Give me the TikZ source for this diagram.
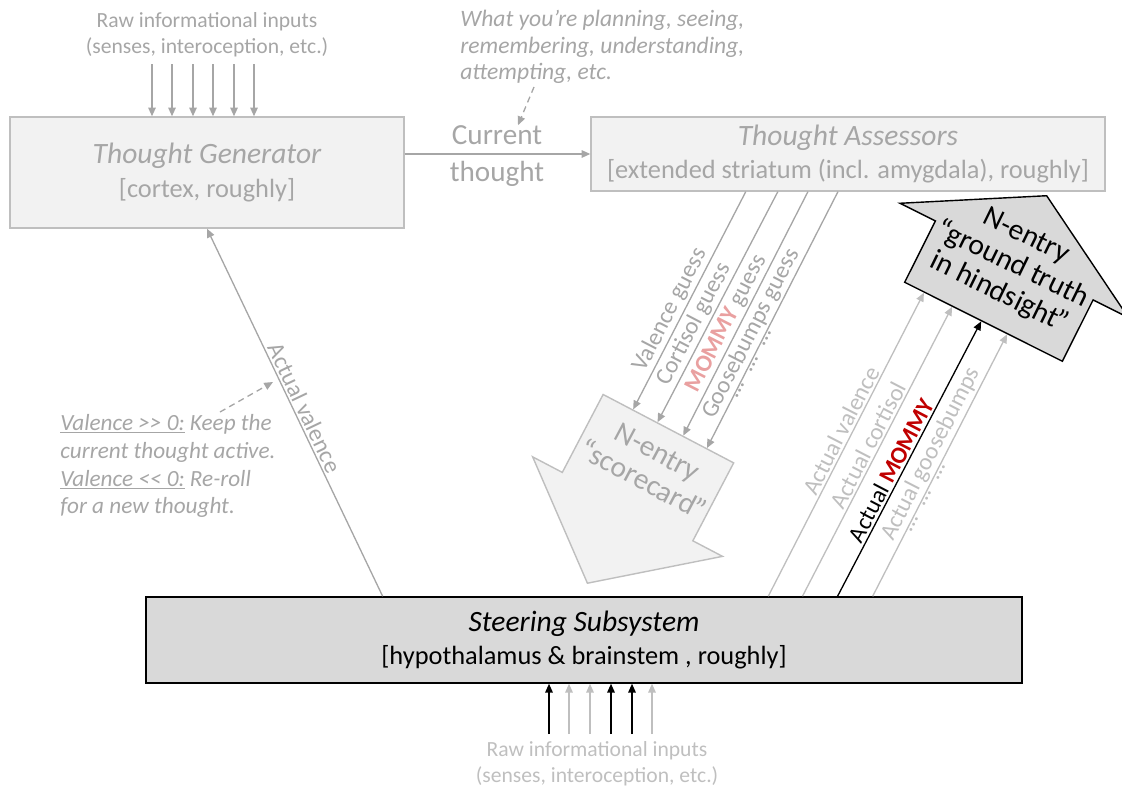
\documentclass[tikz,border=0pt]{standalone}
\usepackage{fontspec}
\setmainfont{Carlito}
\usetikzlibrary{arrows.meta,calc,shapes.arrows}
\definecolor{inkgray}{RGB}{166,166,166}
\definecolor{palegray}{RGB}{191,191,191}
\definecolor{boxframe}{RGB}{191,191,191}
\definecolor{boxfill}{RGB}{242,242,242}
\definecolor{steerfill}{RGB}{217,217,217}
\definecolor{mommyred}{RGB}{192,0,0}
\definecolor{mommypink}{RGB}{233,160,160}
\newcommand\titlesize{\fontsize{16.8}{19}\selectfont}
\newcommand\subsize{\fontsize{15}{19}\selectfont}
\newcommand\notesize{\fontsize{13.6}{15.5}\selectfont}
\newcommand\rawsize{\fontsize{12.3}{14.7}\selectfont}
\newcommand\more{…\hspace{0.55em}…\hspace{0.55em}…}

\begin{document}
\begin{tikzpicture}[
  x=0.02cm, y=-0.02cm,
  box/.style={draw=boxframe,line width=0.8pt,fill=boxfill,inner sep=0pt,
              align=center,text=inkgray,font=\subsize},
  steer/.style={box,draw=black,line width=0.9pt,fill=steerfill,text=black},
  arr/.style={-{Triangle[length=5pt,width=4.3pt]},inkgray,line width=0.75pt},
  cue/.style={arr,dash pattern=on 3.5pt off 2.5pt},
  tag/.style={sloped,inner sep=1pt,font=\notesize},
  note/.style={align=left,inner sep=0pt,text=inkgray,
               font=\fontsize{13.4}{15.1}\selectfont\itshape},
  raw/.style={align=center,inner xsep=0pt,inner ysep=4pt,font=\rawsize},
  bigarrow/.style={shape=single arrow,draw=boxframe,fill=boxfill,line width=0.8pt,
                   inner xsep=0pt,anchor=tip},
  bigtext/.style={align=center,inner sep=0pt,font=\fontsize{16.8}{18}\selectfont}
]
\useasboundingbox (0,0) rectangle (1122,791);
\clip (0,0) rectangle (1122,791);

% the three systems
\node[box,minimum width=7.88cm,minimum height=2.22cm] (tg) at (207,172.5)
  {{\titlesize\itshape Thought Generator}\\{[cortex, roughly]}};
\node[box,minimum width=10.28cm,minimum height=1.48cm] (ta) at (848,154)
  {{\titlesize\itshape Thought Assessors}\\{[extended striatum (incl. amygdala), roughly]}};
\node[steer,minimum width=17.52cm,minimum height=1.72cm] (ss) at (584,640)
  {{\titlesize\itshape Steering Subsystem}\\{[hypothalamus \& brainstem , roughly]}};

% sensory inputs, top and bottom
\node[raw,text=inkgray,anchor=south] (rawtop) at (207,64)
  {Raw informational inputs\\(senses, interoception, etc.)};
\node[raw,text=palegray,anchor=north] (rawbot) at (597,734)
  {Raw informational inputs\\(senses, interoception, etc.)};
\foreach \x in {152,172,193,213,234,254}
  \draw[arr] (\x,0 |- rawtop.south) -- (\x,0 |- tg.north);
\foreach \x/\c in {549/black,569/palegray,590/palegray,611/black,632/black,652/palegray}
  \draw[arr,\c] (\x,0 |- rawbot.north) -- (\x,0 |- ss.south);

% current thought
\node[align=center,inner sep=0pt,text=inkgray,font=\fontsize{16.6}{21}\selectfont] (cur) at (497,156)
  {Current\\thought};
\draw[arr] (tg.east |- ta.west) -- (ta.west);
\node[note,anchor=west] (plan) at (460,47)
  {What you’re planning, seeing,\\remembering, understanding,\\attempting, etc.};
\coordinate (planfoot) at (534,87);
\draw[cue] (planfoot) -- ([xshift=0.42cm]cur.north);

% valence loop back to the generator
\draw[arr] ($(ss.north west)!0.2705!(ss.north east)$)
  -- node[tag,above,pos=0.5,text=inkgray] {Actual valence} (tg.south);
\node[note,anchor=west,font=\fontsize{13.2}{15.9}\selectfont\itshape] (rule) at (60,466)
  {\underline{Valence >{}> 0:} Keep the\\current thought active.\\\underline{Valence <{}< 0:} Re-roll\\for a new thought.};
\coordinate (rulefoot) at (220,412);
\coordinate (rulehead) at (273,382);
\draw[cue] (rulefoot) -- (rulehead);

% block arrows
\node[bigarrow,rotate=-117.66,minimum height=3.49cm,inner ysep=1.46cm,
      single arrow head extend=0.67cm,single arrow tip angle=102.2] (sc) at (587,584) {};
\node[bigtext,text=inkgray,rotate=-28] (sctext) at (650,466) {N-entry\\“scorecard\kern-1pt”};
\node[bigarrow,draw=black,fill=steerfill,rotate=63.4,minimum height=2.82cm,inner ysep=1.75cm,
      single arrow head extend=0.79cm,single arrow tip angle=120.9] (gt) at (1047,195) {};
\node[bigtext,rotate=-26] (gttext) at (1012,265) {N-entry\\“ground truth\\in hindsight\kern-1.5pt”};

% guesses
\draw[arr] ($(ta.south west)!0.3016!(ta.south east)$)
  -- node[tag,above,pos=0.57,text=inkgray] {Valence guess} ($(sc.before tail)!0.23!(sc.after tail)$);
\draw[arr] ($(ta.south west)!0.3638!(ta.south east)$)
  -- node[tag,above,pos=0.60,text=inkgray] {Cortisol guess} ($(sc.before tail)!0.415!(sc.after tail)$);
\draw[arr] ($(ta.south west)!0.4222!(ta.south east)$)
  -- node[tag,above,pos=0.563,text=inkgray] {{\bfseries\color{mommypink}MOMMY} guess} ($(sc.before tail)!0.61!(sc.after tail)$);
\draw[arr] ($(ta.south west)!0.4805!(ta.south east)$)
  -- node[tag,above,pos=0.576,text=inkgray] {Goosebumps guess}
     node[tag,below,pos=0.667,text=inkgray] {\more} ($(sc.before tail)!0.79!(sc.after tail)$);

% ground truth
\draw[arr,palegray] ($(ss.north west)!0.710!(ss.north east)$)
  -- node[tag,above,pos=0.53,text=palegray] {Actual valence} ($(gt.after tail)!0.127!(gt.before tail)$);
\draw[arr,palegray] ($(ss.north west)!0.749!(ss.north east)$)
  -- node[tag,above,pos=0.505,text=palegray] {Actual cortisol} ($(gt.after tail)!0.304!(gt.before tail)$);
\draw[arr,black] ($(ss.north west)!0.789!(ss.north east)$)
  -- node[tag,above,pos=0.44,text=black] {Actual {\bfseries\color{mommyred}MOMMY}} ($(gt.after tail)!0.487!(gt.before tail)$);
\draw[arr,palegray] ($(ss.north west)!0.829!(ss.north east)$)
  -- node[tag,above,pos=0.52,text=palegray] {Actual goosebumps}
     node[tag,below,pos=0.38,text=palegray] {\more} ($(gt.after tail)!0.65!(gt.before tail)$);
\end{tikzpicture}
\end{document}
